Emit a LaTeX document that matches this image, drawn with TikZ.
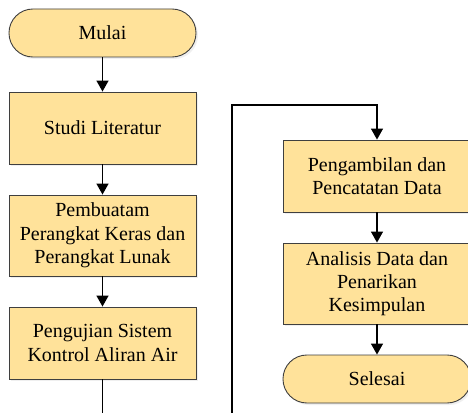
\documentclass[tikz,border=0pt]{standalone}
\usepackage{fontspec}
\setmainfont{Liberation Serif}
\usetikzlibrary{arrows.meta,shadows}
\definecolor{boxfill}{HTML}{FFE29A}
\definecolor{boxline}{HTML}{3F3F3F}
\tikzset{
  procbox/.style={draw=boxline, line width=0.9pt, fill=boxfill, minimum width=187pt,
    align=center, inner sep=2pt, font=\fontsize{20}{23.3}\selectfont,
    drop shadow={shadow xshift=2pt, shadow yshift=-2pt, opacity=0.12}},
  termbox/.style={procbox, rounded corners=23.9pt, minimum height=48pt},
  flow/.style={line width=1.4pt, -{Triangle[width=12pt,length=11pt]}},
  plainline/.style={line width=1.4pt}
}
\begin{document}
\begin{tikzpicture}[x=1pt,y=-1pt]
\fill[white] (0,0) rectangle (468,412);
\useasboundingbox (0,0) rectangle (468,412);
\clip (0,0) rectangle (468,412);
\node[termbox] (mulai) at (102.5,33) {Mulai};
\node[procbox, minimum height=72pt] (studi) at (102.5,128) {Studi Literatur};
\node[procbox, minimum height=81pt] (buat) at (102.5,235.5) {Pembuatam\\Perangkat Keras dan\\Perangkat Lunak};
\node[procbox, minimum height=72pt] (uji) at (102.5,343) {Pengujian Sistem\\Kontrol Aliran Air};
\node[procbox, minimum height=72pt, minimum width=188pt] (ambil) at (377,176) {Pengambilan dan\\Pencatatan Data};
\node[procbox, minimum height=81pt, minimum width=188pt] (analisis) at (377,283.5) {Analisis Data dan\\Penarikan\\Kesimpulan};
\node[termbox, minimum width=188pt] (selesai) at (377,379) {Selesai};
\coordinate (c1) at (102.5,414);
\coordinate (c2) at (232,414);
\coordinate (c3) at (232,105);
\draw[flow] (mulai) -- (studi);
\draw[flow] (studi) -- (buat);
\draw[flow] (buat) -- (uji);
\draw[plainline] (uji) -- (c1);
\draw[flow] (c2) -- (c3) -| (ambil.north);
\draw[flow] (ambil) -- (analisis);
\draw[flow] (analisis) -- (selesai);
\end{tikzpicture}
\end{document}
